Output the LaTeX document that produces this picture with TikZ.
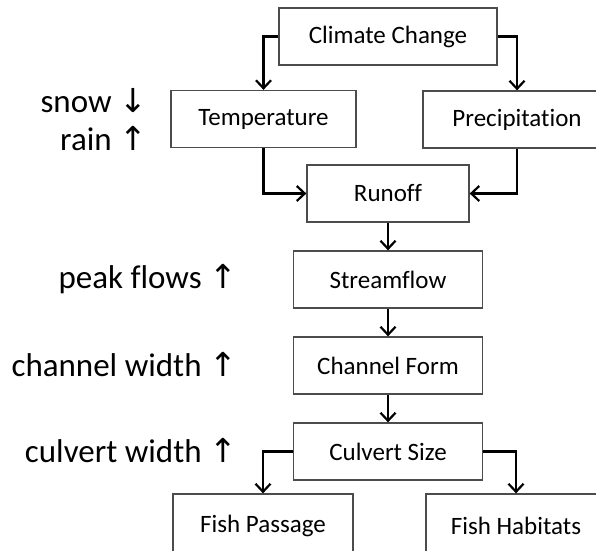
\documentclass[tikz,border=0pt]{standalone}
\usepackage{fontspec}
\setmainfont{Carlito}[Ligatures=NoCommon]
\newfontfamily\arrowfont{DejaVu Sans}
\usetikzlibrary{
    arrows.meta,
    positioning,
}

\begin{document}
\begin{tikzpicture}[x=1pt, y=1pt, node distance={86pt},
    box/.style = {draw=black!70, line width=1.3pt, minimum height=57pt, font=\fontsize{25}{30}\selectfont},
    note/.style = {anchor=east, inner sep=0pt, align=right, font=\fontsize{33}{38}\selectfont},
    link/.style = {line width=2.4pt, -{Straight Barb[length=8pt,width=15pt,line width=2.2pt]}}]
    \useasboundingbox (0,0) rectangle (596,-550);
    \clip (0,0) rectangle (596,-550);
    \node[box, minimum width=218pt] (climate) at (388,-36.5) {Climate Change};
    \node[box, minimum width=185pt] (temp)    at (263.5,-119) {Temperature};
    \node[box, minimum width=188pt] (precip)  at (517,-119.5) {Precipitation};
    \node[box, minimum width=162pt] (runoff)  at (388,-193.5) {Runoff};
    \node[box, minimum width=189pt] (stream)  [below of=runoff] {Streamflow};
    \node[box, minimum width=189pt] (channel) [below of=stream] {Channel Form};
    \node[box, minimum width=189pt] (culvert) [below of=channel] {Culvert Size};
    \node[box, minimum width=180pt, minimum height=63pt] (passage) at (263,-525.5) {Fish Passage};
    \node[box, minimum width=180pt, minimum height=63pt] (habitat) at (516,-525.5) {Fish Habitats};
    % effects on the left
    \node[note] (snowrain) at (147,-120) {snow {\arrowfont ↓}\\rain {\arrowfont ↑}};
    \node[note] (peak)     at (237,-279) {peak flows {\arrowfont ↑}};
    \node[note] (width)    at (237,-365) {channel width {\arrowfont ↑}};
    \node[note] (culw)     at (237,-451) {culvert width {\arrowfont ↑}};
    \draw[link] (climate.west) -| (temp.north);
    \draw[link] (climate.east) -| (precip.north);
    \draw[link] (temp.south) |- (runoff.west);
    \draw[link] (precip.south) |- (runoff.east);
    \draw[link] (runoff) -- (stream);
    \draw[link] (stream) -- (channel);
    \draw[link] (channel) -- (culvert);
    \draw[link] (culvert.west) -| (passage.north);
    \draw[link] (culvert.east) -| (habitat.north);
\end{tikzpicture}
\end{document}
